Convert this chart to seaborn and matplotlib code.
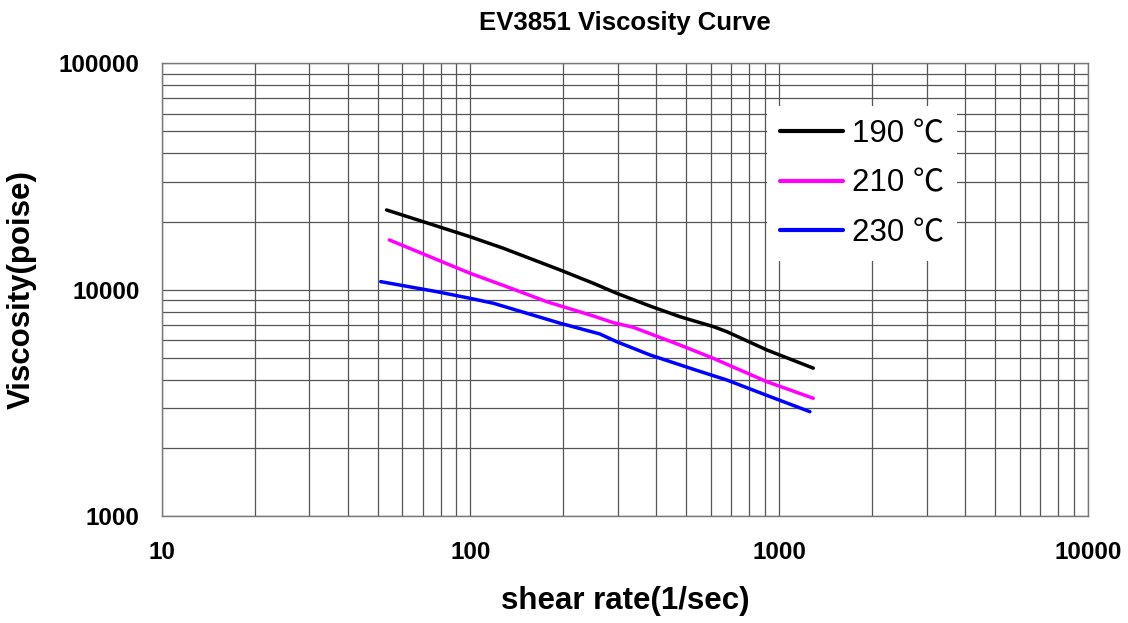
import matplotlib
matplotlib.use("Agg")
import matplotlib.pyplot as plt
import matplotlib.ticker as mticker
from matplotlib.font_manager import FontProperties
import seaborn as sns
import pandas as pd
import numpy as np

# ---- data ----
temps = ["190 ℃", "210 ℃", "230 ℃"]
colors = ["#000000", "#FF00FF", "#0000FF"]

shear_190 = [53.5, 99.6, 127.7, 195, 250, 297.5, 381, 476, 611, 676, 910, 1289]
visc_190 = [22490, 17140, 15240, 12220, 10670, 9640, 8470, 7600, 6870, 6525, 5420, 4500]

shear_210 = [54.6, 99.6, 131, 176.5, 250, 290, 336.5, 476, 611, 910, 1289]
visc_210 = [16580, 11820, 10310, 8850, 7650, 7150, 6820, 5700, 4975, 3925, 3313]

shear_230 = [51.2, 77.7, 99.6, 118.5, 195, 262.6, 297.5, 381, 526.7, 676, 933, 1257]
visc_230 = [10850, 9800, 9160, 8710, 7110, 6370, 5890, 5150, 4450, 3990, 3370, 2890]

x_ticks = [10, 100, 1000, 10000]
y_ticks = [1000, 10000, 100000]

title = "EV3851 Viscosity Curve"
xlabel = "shear rate(1/sec)"
ylabel = "Viscosity(poise)"

# ---- build long-form table ----
frames = []
for t, xs, ys in zip(temps, [shear_190, shear_210, shear_230],
                     [visc_190, visc_210, visc_230]):
    frames.append(pd.DataFrame({"shear": xs, "visc": ys, "temp": t}))
df = pd.concat(frames, ignore_index=True)

sns.set_theme(style="white")
plt.rcParams["font.family"] = ["Liberation Sans", "Noto Sans CJK SC", "DejaVu Sans"]
plt.rcParams["text.color"] = "black"
plt.rcParams["axes.labelcolor"] = "black"
plt.rcParams["xtick.color"] = "black"
plt.rcParams["ytick.color"] = "black"

fig = plt.figure(figsize=(11.28, 6.23), dpi=100)
ax = fig.add_axes([161.7 / 1128, 1 - 516 / 623, (1088 - 161.7) / 1128, (516 - 63.3) / 623])

sns.lineplot(data=df, x="shear", y="visc", hue="temp", palette=colors,
             hue_order=temps, sort=False, estimator=None, linewidth=2.5, ax=ax)

ax.set_xscale("log")
ax.set_yscale("log")
ax.set_xlim(10, 10000)
ax.set_ylim(1000, 100000)

ax.xaxis.set_major_locator(mticker.FixedLocator(x_ticks))
ax.yaxis.set_major_locator(mticker.FixedLocator(y_ticks))
ax.xaxis.set_major_formatter(mticker.FuncFormatter(lambda v, p: f"{int(round(v))}"))
ax.yaxis.set_major_formatter(mticker.FuncFormatter(lambda v, p: f"{int(round(v))}"))
ax.xaxis.set_minor_locator(mticker.LogLocator(base=10, subs=np.arange(2, 10)))
ax.yaxis.set_minor_locator(mticker.LogLocator(base=10, subs=np.arange(2, 10)))
ax.xaxis.set_minor_formatter(mticker.NullFormatter())
ax.yaxis.set_minor_formatter(mticker.NullFormatter())

ax.grid(True, which="both", color="#555555", linewidth=0.9)
ax.set_axisbelow(True)
for s in ax.spines.values():
    s.set_color("#777777")
    s.set_linewidth(1.0)

ax.tick_params(axis="both", which="both", length=0)
ax.tick_params(axis="y", which="major", pad=16, labelsize=17.5)
ax.tick_params(axis="x", which="major", pad=18, labelsize=17.5)
for lab in ax.get_xticklabels() + ax.get_yticklabels():
    lab.set_fontweight("bold")

ax.set_xlabel(xlabel, fontsize=22.5, fontweight="bold", labelpad=16)
ax.set_ylabel(ylabel, fontsize=22.5, fontweight="bold", labelpad=16)
ax.set_title(title, fontsize=18.5, fontweight="bold", pad=24)

leg_font = FontProperties(family=["Liberation Sans", "Noto Sans CJK SC"], size=22.5)
leg = ax.legend(loc="upper left", bbox_to_anchor=(767 / 1128, 1 - 106 / 623),
                bbox_transform=fig.transFigure, borderaxespad=0,
                prop=leg_font, frameon=True, fancybox=False, framealpha=1,
                handlelength=2.0, handletextpad=0.3, labelspacing=0.62,
                borderpad=0.42)
leg.get_frame().set_edgecolor("none")
leg.get_frame().set_facecolor("white")
for line in leg.get_lines():
    line.set_linewidth(3)

fig.savefig("out.png", dpi=100)
